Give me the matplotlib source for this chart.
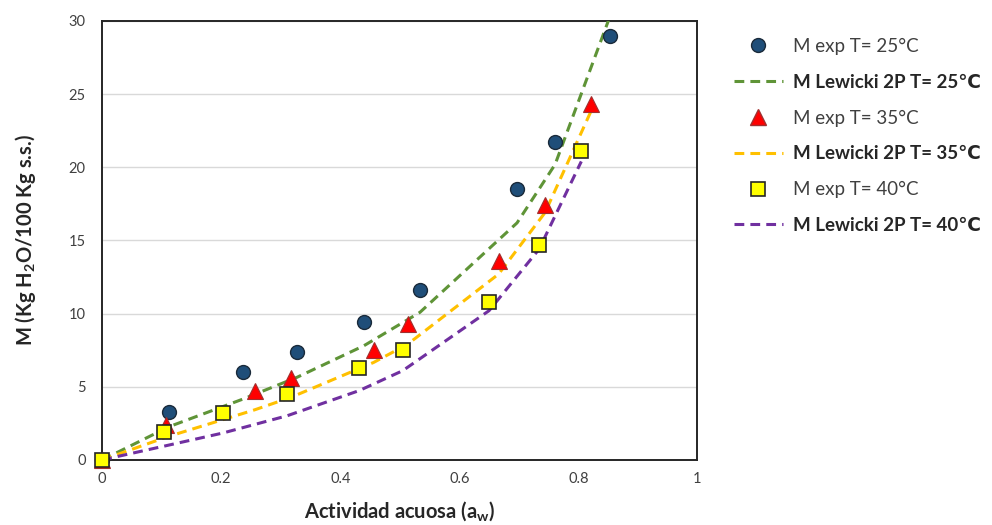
import matplotlib
matplotlib.use("Agg")
import matplotlib.pyplot as plt
from matplotlib.lines import Line2D

plt.rcParams['font.family'] = ['Lato', 'DejaVu Sans']

# Experimental sorption data (water activity, moisture content)
aw_25 = [0, 0.113, 0.236, 0.327, 0.440, 0.534, 0.697, 0.761, 0.853]
m_exp_25 = [0, 3.3, 6.0, 7.4, 9.4, 11.6, 18.5, 21.7, 29.0]
aw_35 = [0, 0.108, 0.256, 0.318, 0.456, 0.513, 0.666, 0.744, 0.822]
m_exp_35 = [0, 2.4, 4.7, 5.6, 7.5, 9.3, 13.6, 17.4, 24.3]
aw_40 = [0, 0.104, 0.203, 0.311, 0.432, 0.505, 0.650, 0.734, 0.805]
m_exp_40 = [0, 1.9, 3.2, 4.5, 6.3, 7.5, 10.8, 14.7, 21.1]

# Lewicki 2P model predictions at the same water activities
m_lew_25 = [0, 2.28, 4.15, 5.64, 7.81, 10.09, 16.2, 20.2, 30.3]
m_lew_35 = [0, 1.56, 3.42, 4.29, 6.66, 7.90, 12.7, 16.9, 23.9]
m_lew_40 = [0, 0.94, 1.84, 3.02, 4.74, 6.10, 10.2, 14.4, 20.4]

x_ticks = [0, 0.2, 0.4, 0.6, 0.8, 1]
x_tick_labels = ['0', '0.2', '0.4', '0.6', '0.8', '1']
y_ticks = [0, 5, 10, 15, 20, 25, 30]

labels = ['M exp T= 25°C', 'M Lewicki 2P T= 25℃',
          'M exp T= 35°C', 'M Lewicki 2P T= 35℃',
          'M exp T= 40°C', 'M Lewicki 2P T= 40℃']

c_green = '#5f9437'
c_orange = '#ffc000'
c_purple = '#7030a0'

fig = plt.figure(figsize=(9.92, 5.25), dpi=100)
ax = fig.add_axes([0.103, 0.124, 0.600, 0.836])

dash = (0, (3.2, 2.0))
lw = 2.2
ax.plot(aw_25, m_lew_25, color=c_green, lw=lw, linestyle=dash, zorder=3)
ax.plot(aw_35, m_lew_35, color=c_orange, lw=lw, linestyle=dash, zorder=3)
ax.plot(aw_40, m_lew_40, color=c_purple, lw=lw, linestyle=dash, zorder=3)

ax.plot(aw_25, m_exp_25, 'o', ms=10, mfc='#1f4e79', mec='#1a2a3a', mew=1.0, zorder=4, clip_on=False)
ax.plot(aw_35, m_exp_35, '^', ms=11, mfc='#ff0000', mec='#a03030', mew=0.8, zorder=5, clip_on=False)
ax.plot(aw_40, m_exp_40, 's', ms=10, mfc='#ffff00', mec='#262626', mew=1.2, zorder=6, clip_on=False)

ax.set_xlim(0, 1)
ax.set_ylim(0, 30)
ax.set_xticks(x_ticks)
ax.set_xticklabels(x_tick_labels)
ax.set_yticks(y_ticks)
ax.tick_params(axis='both', length=0, labelsize=10.5, labelcolor='#404040')
ax.tick_params(axis='x', pad=9)
ax.tick_params(axis='y', pad=12)
ax.yaxis.grid(True, color='#d9d9d9', lw=1.0)
ax.set_axisbelow(True)
for s in ax.spines.values():
    s.set_color('#262626')
    s.set_linewidth(1.4)

ax.set_xlabel('Actividad acuosa (a$_{\\mathregular{w}}$)', fontsize=14.5, fontweight='bold',
              color='#262626', labelpad=9)
ax.set_ylabel('M (Kg H$_{\\mathregular{2}}$O/100 Kg s.s.)', fontsize=14.5, fontweight='bold',
              color='#262626', labelpad=22)

handles = [
    Line2D([], [], ls='none', marker='o', ms=10, mfc='#1f4e79', mec='#1a2a3a'),
    Line2D([], [], color=c_green, lw=lw, linestyle=dash),
    Line2D([], [], ls='none', marker='^', ms=11, mfc='#ff0000', mec='#a03030'),
    Line2D([], [], color=c_orange, lw=lw, linestyle=dash),
    Line2D([], [], ls='none', marker='s', ms=10, mfc='#ffff00', mec='#262626', mew=1.2),
    Line2D([], [], color=c_purple, lw=lw, linestyle=dash),
]
leg = fig.legend(handles, labels, loc='upper left', bbox_to_anchor=(0.723, 0.96),
                 frameon=False, fontsize=13.5, handlelength=2.6, labelspacing=1.0,
                 handletextpad=0.55, labelcolor='#404040')
for i, t in enumerate(leg.get_texts()):
    if i % 2 == 1:
        t.set_fontweight('bold')
        t.set_color('#262626')

fig.savefig('out.png', dpi=100)
